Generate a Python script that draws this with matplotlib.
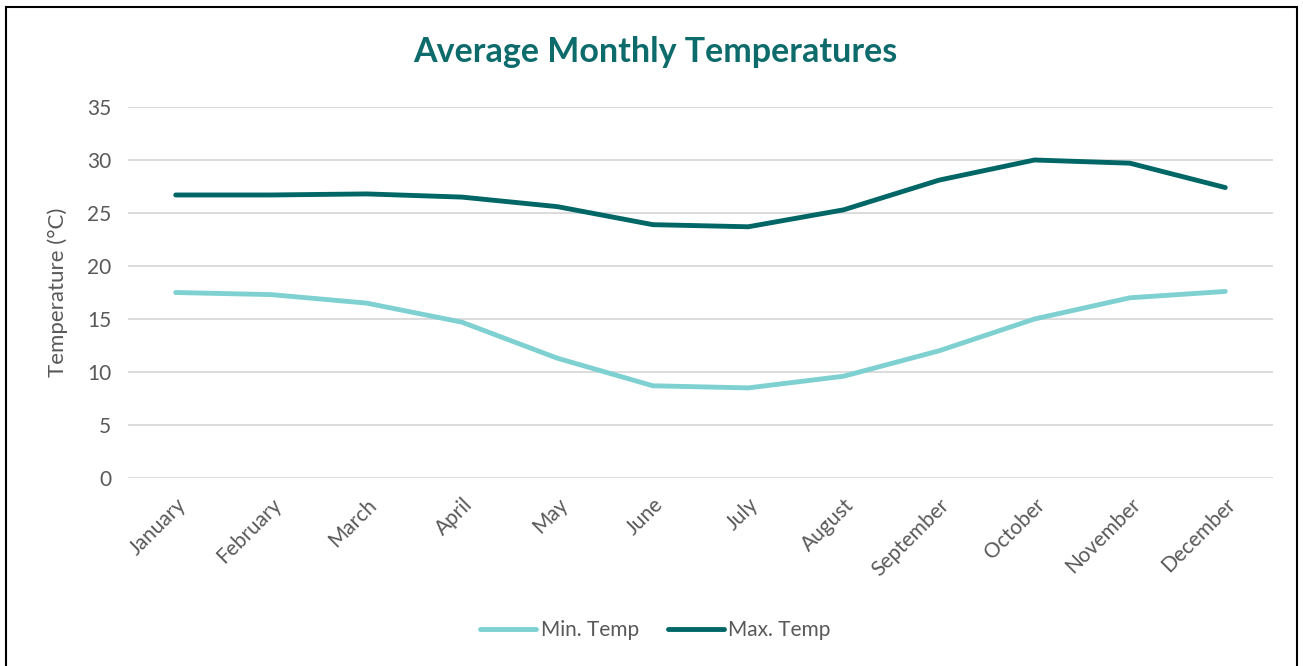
import matplotlib
matplotlib.use("Agg")
import matplotlib.pyplot as plt
from matplotlib.patches import Rectangle

#   Data   #
months = ['January', 'February', 'March', 'April', 'May', 'June', 'July',
          'August', 'September', 'October', 'November', 'December']
min_temp = [17.5, 17.3, 16.5, 14.7, 11.3, 8.7, 8.5, 9.6, 12.0, 15.0, 17.0, 17.6]
max_temp = [26.7, 26.7, 26.8, 26.5, 25.6, 23.9, 23.7, 25.3, 28.1, 30.0, 29.7, 27.4]

plt.rcParams['font.family'] = ['Lato', 'DejaVu Sans']
text_color = '#595959'

fig = plt.figure(figsize=(13.03, 6.66), dpi=100)
ax = fig.add_axes([128 / 1303, 1 - 478 / 666, (1273 - 128) / 1303, (478 - 107) / 666])

x = list(range(len(months)))
l1, = ax.plot(x, min_temp, color='#7FD1D1', lw=3.5, solid_capstyle='round', label='Min. Temp')
l2, = ax.plot(x, max_temp, color='#006666', lw=3.5, solid_capstyle='round', label='Max. Temp')

ax.set_xlim(-0.5, 11.5)
ax.set_ylim(0, 35)
ax.set_yticks(range(0, 36, 5))
ax.grid(axis='y', color='#D9D9D9', lw=1.3)
ax.set_axisbelow(True)
for s in ax.spines.values():
    s.set_visible(False)
ax.tick_params(length=0, labelsize=15, colors=text_color, pad=12)
ax.set_xticks(x)
ax.set_xticklabels(months, rotation=45, ha='right', rotation_mode='anchor')
ax.tick_params(axis='x', pad=12)

ax.set_ylabel('Temperature (°C)', fontsize=16, color=text_color, labelpad=14)

fig.text(0.503, 1 - 52 / 666, 'Average Monthly Temperatures', ha='center', va='center',
         fontsize=24.5, fontweight='bold', color='#0E6B6B')

fig.legend(handles=[l1, l2], loc='center', bbox_to_anchor=(0.503, 1 - 630 / 666), ncol=2,
           frameon=False, fontsize=15, labelcolor=text_color, handlelength=2.7,
           columnspacing=1.4, handletextpad=0.2)

fig.patches.append(Rectangle((6 / 1303, -0.01), (1297 - 6) / 1303, 1 - 7 / 666 + 0.01,
                             transform=fig.transFigure, fill=False, edgecolor='black', lw=1.5))

fig.savefig('out.png', dpi=100)
